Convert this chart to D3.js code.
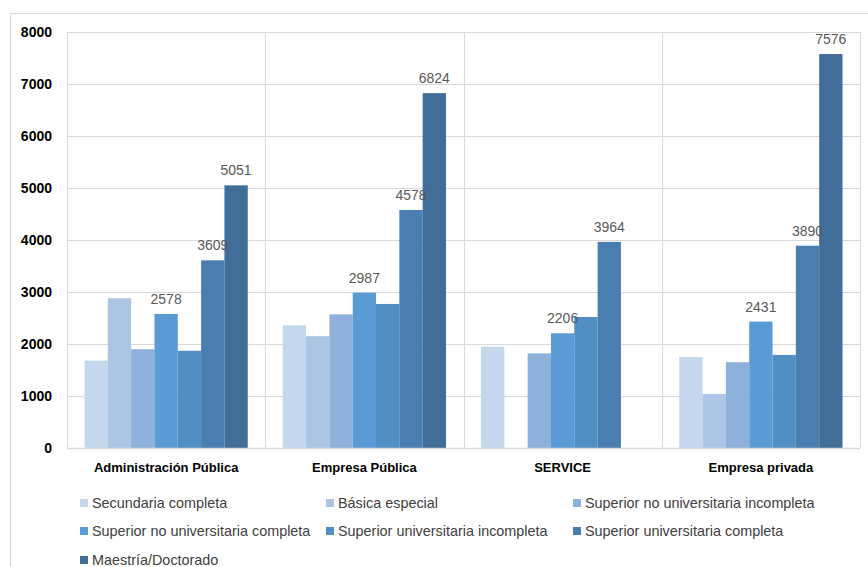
<!DOCTYPE html>
<html>
<head>
<meta charset="utf-8">
<script src="https://cdn.jsdelivr.net/npm/d3@7"></script>
<style>
  html, body { margin: 0; padding: 0; background: #fff; }
  svg { display: block; font-family: "Liberation Sans", Arial, sans-serif; }
</style>
</head>
<body>
<svg id="chart" width="868" height="567"></svg>
<script>
// Categories (sector) and education levels
const categories = ["Administración Pública", "Empresa Pública", "SERVICE", "Empresa privada"];
const seriesNames = [
  "Secundaria completa",
  "Básica especial",
  "Superior no universitaria incompleta",
  "Superior no universitaria completa",
  "Superior universitaria incompleta",
  "Superior universitaria completa",
  "Maestría/Doctorado"
];
// Values per series, one entry per category (null = no data)
const secundariaCompleta   = [1680, 2360, 1950, 1750];
const basicaEspecial       = [2880, 2150, null, 1040];
const supNoUnivIncompleta  = [1900, 2570, 1820, 1650];
const supNoUnivCompleta    = [2578, 2987, 2206, 2431];
const supUnivIncompleta    = [1870, 2770, 2520, 1790];
const supUnivCompleta      = [3609, 4578, 3964, 3890];
const maestriaDoctorado    = [5051, 6824, null, 7576];
const seriesValues = [secundariaCompleta, basicaEspecial, supNoUnivIncompleta,
  supNoUnivCompleta, supUnivIncompleta, supUnivCompleta, maestriaDoctorado];
// Series that carry value labels
const labelledSeries = [3, 5, 6];
const yTicks = [0, 1000, 2000, 3000, 4000, 5000, 6000, 7000, 8000];

const colors = ["#c5d7ec", "#adc5e5", "#8eb1db", "#5b9bd5", "#508ec3", "#4a7db0", "#416d99"];

const svg = d3.select("#chart");
const W = 868, H = 567;
const plot = { left: 67, right: 860, top: 32, bottom: 448 };

// Outer chart frame
svg.append("rect")
  .attr("x", 10.5).attr("y", 13.5)
  .attr("width", W + 20).attr("height", H + 20)
  .attr("fill", "#fff").attr("stroke", "#d9d9d9").attr("stroke-width", 1);

const x0 = d3.scaleBand().domain(categories).range([plot.left, plot.right]).padding(0);
// 150% gap width: bar = band / (7 + 1.5)
const x1 = d3.scaleBand().domain(d3.range(seriesNames.length))
  .range([0, x0.bandwidth()]).paddingOuter(0.75).paddingInner(0);
const y = d3.scaleLinear().domain([0, 8000]).range([plot.bottom, plot.top]);

// Horizontal gridlines
svg.append("g").selectAll("line").data(yTicks.filter(t => t > 0)).join("line")
  .attr("x1", plot.left).attr("x2", plot.right)
  .attr("y1", d => Math.round(y(d)) + 0.5).attr("y2", d => Math.round(y(d)) + 0.5)
  .attr("stroke", "#d9d9d9").attr("stroke-width", 1);

// Vertical gridlines at category boundaries
const vLines = categories.map(c => x0(c)).concat([plot.right]);
svg.append("g").selectAll("line").data(vLines).join("line")
  .attr("x1", d => Math.round(d) + 0.5).attr("x2", d => Math.round(d) + 0.5)
  .attr("y1", plot.top).attr("y2", plot.bottom)
  .attr("stroke", "#d9d9d9").attr("stroke-width", 1);

// Bars
const barData = [];
seriesValues.forEach((vals, s) => {
  vals.forEach((v, c) => {
    if (v != null) barData.push({ s, c, v });
  });
});
svg.append("g").selectAll("rect").data(barData).join("rect")
  .attr("x", d => x0(categories[d.c]) + x1(d.s))
  .attr("width", x1.bandwidth())
  .attr("y", d => y(d.v))
  .attr("height", d => y(0) - y(d.v))
  .attr("fill", d => colors[d.s]);

// Baseline axis
svg.append("line")
  .attr("x1", plot.left).attr("x2", plot.right)
  .attr("y1", plot.bottom + 0.5).attr("y2", plot.bottom + 0.5)
  .attr("stroke", "#d9d9d9").attr("stroke-width", 1.5);

// Value labels
svg.append("g").selectAll("text")
  .data(barData.filter(d => labelledSeries.includes(d.s))).join("text")
  .attr("x", d => x0(categories[d.c]) + x1(d.s) + x1.bandwidth() / 2)
  .attr("y", d => y(d.v) - 10)
  .attr("text-anchor", "middle")
  .attr("font-size", 14)
  .attr("fill", "#595959")
  .text(d => d.v);

// Y axis
const yAxis = d3.axisLeft(y).tickValues(yTicks).tickSize(0).tickPadding(0).tickFormat(d3.format("d"));
const yg = svg.append("g").attr("transform", `translate(52,0)`).call(yAxis);
yg.select(".domain").remove();
yg.selectAll("text").attr("font-size", 14).attr("font-weight", "bold")
  .attr("fill", "#000").attr("font-family", "Liberation Sans, Arial, sans-serif")
  .attr("dy", "0.35em");

// X axis category labels
const xAxis = d3.axisBottom(x0).tickSize(0).tickPadding(0);
const xg = svg.append("g").attr("transform", `translate(0,${plot.bottom + 15})`).call(xAxis);
xg.select(".domain").remove();
xg.selectAll("text").attr("font-size", 13).attr("font-weight", "bold")
  .attr("fill", "#000").attr("font-family", "Liberation Sans, Arial, sans-serif");

// Legend
const legCols = [80, 326, 573];
const legRows = [503, 531, 560];
const leg = svg.append("g").selectAll("g").data(seriesNames).join("g")
  .attr("transform", (d, i) => `translate(${legCols[i % 3]},${legRows[Math.floor(i / 3)]})`);
leg.append("rect").attr("x", 0).attr("y", -4).attr("width", 8).attr("height", 8)
  .attr("fill", (d, i) => colors[i]);
leg.append("text").attr("x", 12).attr("y", 0).attr("dy", "0.35em")
  .attr("font-size", 14.4).attr("fill", "#404040").text(d => d);
</script>
</body>
</html>
